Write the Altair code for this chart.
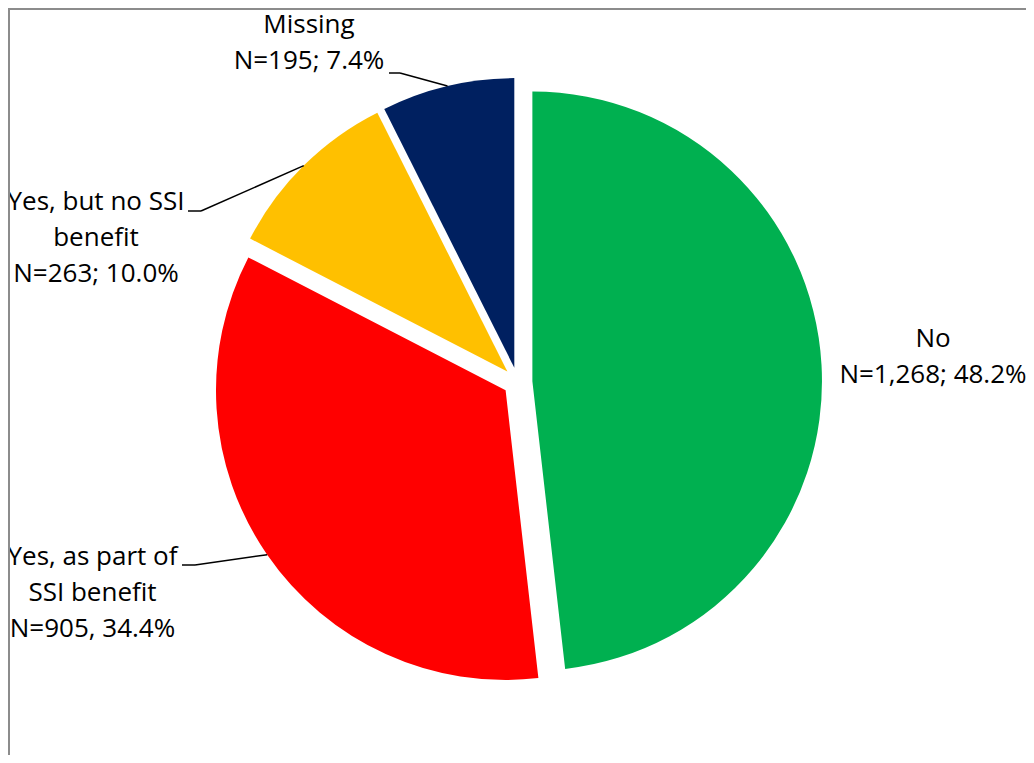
import altair as alt
import pandas as pd

# ---- data ----
categories = ["No", "Yes, as part of SSI benefit", "Yes, but no SSI benefit", "Missing"]
counts = [1268, 905, 263, 195]
percents = [48.2, 34.4, 10.0, 7.4]
label_lines = [
    ["No", "N=1,268; 48.2%"],
    ["Yes, as part of", "SSI benefit", "N=905, 34.4%"],
    ["Yes, but no SSI", "benefit", "N=263; 10.0%"],
    ["Missing", "N=195; 7.4%"],
]
colors = ["#00B050", "#FF0000", "#FFC000", "#002060"]

# ---- layout (pixels inside the view) ----
W, H = 1018, 747
CX, CY, R, D = 509.7, 374.0, 289.6, 14.7
FONT = "Open Sans"
FSIZE = 26
LINE_H = 36
label_x = [925, 84.5, 88, 301]
label_y = [339, 557, 202, 25]
has_leader = [False, True, True, True]
elbow_x = [0, 187, 193, 392]
elbow_y = [0, 557, 203, 65]
tail_x = [0, 174, 180, 381]

df = pd.DataFrame({
    "category": categories,
    "n": counts,
    "pct": percents,
    "order": list(range(len(categories))),
    "lines": label_lines,
    "lx": label_x,
    "ly": label_y,
    "leader": has_leader,
    "bx": elbow_x,
    "by": elbow_y,
    "tx": tail_x,
})

base = (
    alt.Chart(df)
    .transform_joinaggregate(total="sum(n)")
    .transform_window(cum="sum(n)", sort=[alt.SortField("order")], frame=[None, 0])
    .transform_calculate(
        start="2*PI*(datum.cum-datum.n)/datum.total",
        end="2*PI*datum.cum/datum.total",
    )
    .transform_calculate(mid="(datum.start+datum.end)/2")
    .transform_calculate(
        px=f"{CX}+{D}*sin(datum.mid)",
        py=f"{CY}-{D}*cos(datum.mid)",
    )
    .transform_calculate(
        ex=f"datum.px+{R}*sin(datum.mid)",
        ey=f"datum.py-{R}*cos(datum.mid)",
    )
)

pie = base.mark_arc(outerRadius=R, innerRadius=0).encode(
    theta=alt.Theta("start:Q", scale=None, stack=False),
    theta2=alt.Theta2("end:Q"),
    x=alt.X("px:Q", scale=None),
    y=alt.Y("py:Q", scale=None),
    color=alt.Color("category:N", scale=alt.Scale(domain=categories, range=colors), legend=None),
)

leaders = base.transform_filter("datum.leader").mark_rule(color="black", strokeWidth=1.5).encode(
    x=alt.X("ex:Q", scale=None),
    y=alt.Y("ey:Q", scale=None),
    x2=alt.X2("bx:Q"),
    y2=alt.Y2("by:Q"),
)

tails = base.transform_filter("datum.leader").mark_rule(color="black", strokeWidth=1.5).encode(
    x=alt.X("bx:Q", scale=None),
    y=alt.Y("by:Q", scale=None),
    x2=alt.X2("tx:Q"),
    y2=alt.Y2("by:Q"),
)

labels = base.mark_text(
    font=FONT, fontSize=FSIZE, color="black", align="center", baseline="alphabetic", lineHeight=LINE_H
).encode(
    x=alt.X("lx:Q", scale=None),
    y=alt.Y("ly:Q", scale=None),
    text=alt.Text("lines"),
)

border = alt.Chart(pd.DataFrame({"k": [0]})).mark_rule(color="#8c8c8c", strokeWidth=2).encode(
    x=alt.value(1), y=alt.value(0), y2=alt.value(H)
)
border_top = alt.Chart(pd.DataFrame({"k": [0]})).mark_rule(color="#8c8c8c", strokeWidth=2).encode(
    x=alt.value(0), x2=alt.value(W), y=alt.value(1)
)

chart = (
    alt.layer(pie, leaders, tails, labels, border, border_top)
    .properties(width=W, height=H, padding=0, autosize=alt.AutoSizeParams(type="none"), background="white")
    .configure_view(strokeWidth=0)
)

chart.save("out.html", embed_options={"renderer": "svg", "actions": False})
